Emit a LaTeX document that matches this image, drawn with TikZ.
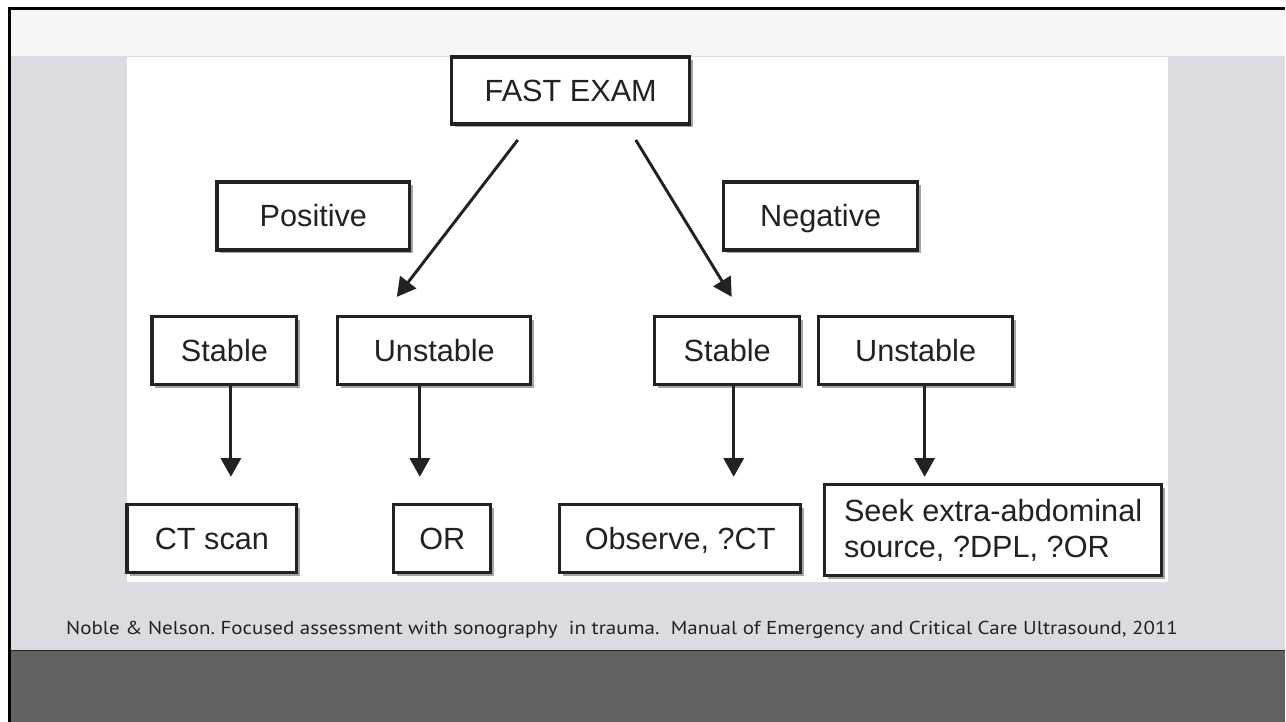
\documentclass[tikz,border=0pt]{standalone}
\usepackage{fontspec}
\setmainfont{Liberation Sans}
\newfontfamily\citefont[FakeStretch=1.125]{PT Sans}
\usetikzlibrary{shapes, arrows.meta, positioning, shadows}

\definecolor{slidegray}{RGB}{220,219,225}
\definecolor{bandgray}{RGB}{246,246,246}
\definecolor{floorgray}{RGB}{98,98,98}
\definecolor{inkgray}{RGB}{34,34,34}

\tikzset{
  box/.style={draw=inkgray, line width=2.4pt, fill=white, text=inkgray,
    font=\fontsize{23}{27}\selectfont, inner sep=0pt, minimum height=51pt,
    drop shadow={shadow xshift=2.6pt, shadow yshift=-2.6pt, fill=black!70, opacity=0.5}},
  tbox/.style={box, text height=16.5pt, text depth=0pt},
  arr/.style={draw=inkgray, line width=2.2pt, -{Triangle[width=15pt,length=14pt]}},
}

\begin{document}
\begin{tikzpicture}[x=0.75pt, y=-0.75pt]
  % slide frame and bands
  \fill[white] (0,0) rectangle (1286,722);
  \fill[black] (8,7) rectangle (1286,722);
  \fill[bandgray] (11,9.5) rectangle (1286,56);
  \fill[slidegray] (11,56) rectangle (1286,651);
  \fill[floorgray] (11,651) rectangle (1286,722);
  \draw[black!85, line width=0.8pt] (11,651) -- (1286,651);
  \fill[white] (127,57) rectangle (1168,582);

  % boxes
  \node[tbox, minimum width=178.5pt, minimum height=50.25pt] (fast) at (571,90.5) {FAST EXAM};
  \node[tbox, minimum width=144.75pt] (pos) at (313.5,216) {Positive};
  \node[tbox, minimum width=145.5pt] (neg) at (821,216) {Negative};
  \node[tbox, minimum width=108.75pt] (sl) at (224.5,351) {Stable};
  \node[tbox, minimum width=144.75pt] (ul) at (434.5,351) {Unstable};
  \node[tbox, minimum width=108.75pt] (sr) at (727.5,351) {Stable};
  \node[tbox, minimum width=145.5pt] (ur) at (916,351) {Unstable};
  \node[tbox, minimum width=127.5pt] (ct) at (212,539) {CT scan};
  \node[tbox, minimum width=72.75pt] (or) at (442.5,539) {OR};
  \node[tbox, minimum width=180.75pt] (obs) at (680.5,539) {Observe, ?CT};
  \node[box, minimum width=252.75pt, minimum height=68.25pt, align=left] (seek) at (993.5,530.5)
    {Seek extra-abdominal\\source, ?DPL, ?OR};

  % arrows
  \coordinate (fl) at (518,140);
  \coordinate (fr) at (636,140);
  \coordinate (tul) at (397,297);
  \coordinate (tsr) at (732,297);
  \draw[arr] (fl) -- (tul);
  \draw[arr] (fr) -- (tsr);
  \coordinate (tct) at (231,477);
  \coordinate (tor) at (420,477);
  \coordinate (tobs) at (734,477);
  \coordinate (tseek) at (925,477);
  \draw[arr] (sl.south -| tct) -- (tct);
  \draw[arr] (ul.south -| tor) -- (tor);
  \draw[arr] (sr.south -| tobs) -- (tobs);
  \draw[arr] (ur.south -| tseek) -- (tseek);

  % source line
  \node[anchor=west, inner sep=0pt, text=inkgray, font=\citefont\fontsize{14}{17}\selectfont] (cite) at (66,630)
    {\frenchspacing Noble \& Nelson. Focused assessment with sonography\ \ in trauma.\ \ Manual of Emergency and Critical Care Ultrasound, 2011};
\end{tikzpicture}
\end{document}
